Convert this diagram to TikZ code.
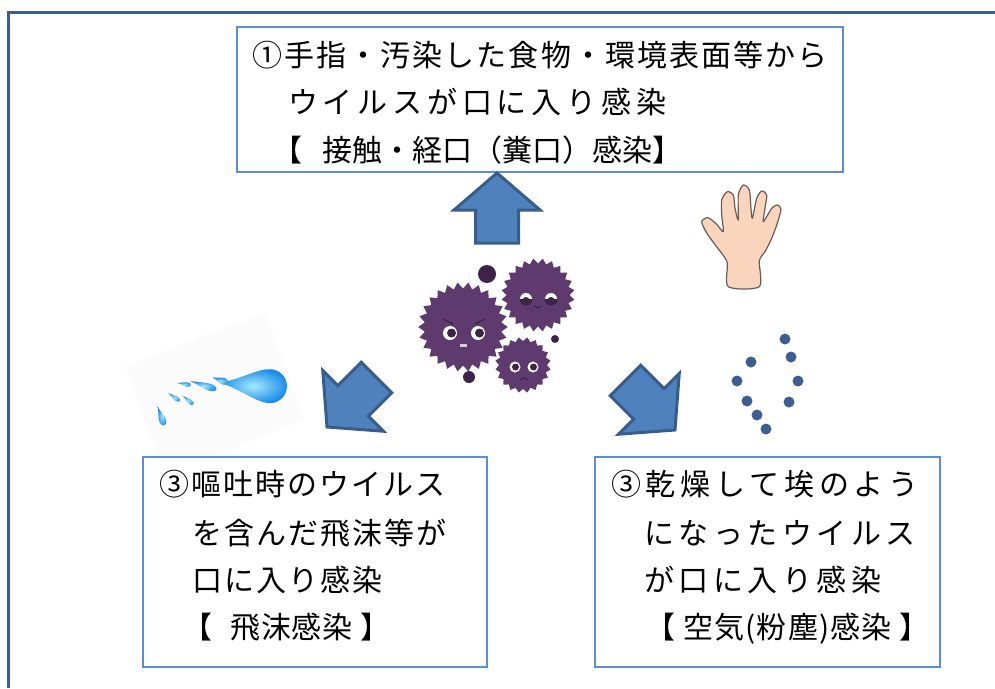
\documentclass[tikz,border=0pt]{standalone}
\usepackage{fontspec}
\newfontfamily\jp{Noto Sans CJK JP}
\usetikzlibrary{shapes.geometric}

\definecolor{framec}{HTML}{3C5F8E}
\definecolor{boxc}{HTML}{5B8FD5}
\definecolor{arrowfill}{HTML}{4F81BD}
\definecolor{arrowline}{HTML}{385D8A}
\definecolor{virus}{HTML}{5E3A6E}
\definecolor{virusdark}{HTML}{3E2348}
\definecolor{dust}{HTML}{3D5F8F}
\definecolor{skin}{HTML}{FAD5BE}
\definecolor{skinline}{HTML}{6B5B55}
\definecolor{dropin}{HTML}{A5EAFB}
\definecolor{dropout}{HTML}{1C8CEB}

\tikzset{
  infobox/.style={draw=boxc, line width=2.4pt, fill=white, inner sep=0pt},
  line/.style={anchor=base west, inner sep=0pt,
    font=\jp\fontsize{30}{30}\selectfont\addfontfeature{LetterSpace=#1}},
  line/.default=0,
  blockarrow/.style={fill=arrowfill, draw=arrowline, line width=3pt, line join=miter},
  germ/.style={star, star point ratio=0.86, fill=virus, inner sep=0pt},
  speck/.style={circle, fill=virusdark, inner sep=0pt},
  dustdot/.style={circle, fill=dust, inner sep=0pt, minimum size=11pt},
  eyewhite/.style={circle, fill=white, inner sep=0pt},
  pupil/.style={circle, fill=virusdark, inner sep=0pt},
}

% teardrop with its point at (-1,0) and round head centred on (0.5,0)
\newcommand{\dropshape}{(-1,0) .. controls (-0.4,0.12) and (0.1,0.5) .. (0.5,0.5)
  arc[start angle=90, end angle=-90, radius=0.5]
  .. controls (0.1,-0.5) and (-0.4,-0.12) .. (-1,0) -- cycle}

\begin{document}
\begin{tikzpicture}[x=1pt, y=-1pt]
\useasboundingbox (0,0) rectangle (995,688);

% outer frame (only top and left edges fall inside the page)
\draw[framec, line width=3pt] (8.5,688) -- (8.5,12.5) -- (995,12.5);

% faint backdrop of the splash picture
\fill[black!1.5] (125,367) -- (265,312) -- (305,420) -- (165,475) -- cycle;

% text boxes
\node[infobox, minimum width=606pt, minimum height=145pt] (topbox) at (540,99.5) {};
\node[infobox, minimum width=344pt, minimum height=210pt] (leftbox) at (315,562) {};
\node[infobox, minimum width=345pt, minimum height=210pt] (rightbox) at (767.5,562) {};

% top box text
\node[line=7] (t1) at (252,66) {①手指・汚染した食物・環境表面等から};
\node[line=16] (t2) at (288,113) {ウイルスが口に入り感染};
\node[line] (t3) at (272,161) {【\hspace{20pt}接触・経口（糞口）感染】};

% lower left box text
\node[line=7] (l1) at (159,495) {③嘔吐時のウイルス};
\node[line=7] (l2) at (192,544) {を含んだ飛沫等が};
\node[line=7] (l3) at (192,591) {口に入り感染};
\node[line=3] (l4) at (182,638) {【\hspace{18pt}飛沫感染 】};

% lower right box text
\node[line=16] (r1) at (611,495) {③乾燥して埃のよう};
\node[line=15] (r2) at (644,544) {になったウイルス};
\node[line=15] (r3) at (644,591) {が口に入り感染};
\node[line=4] (r4) at (645,638) {【 空気(粉塵)感染 】};

% block arrows pointing out from the germs
\foreach \tip/\ang in {{(497,173)}/0, {(327,427)}/135, {(675,430)}/-135}
  \draw[blockarrow, shift={\tip}, rotate=\ang]
    (0,0) -- (43,37) -- (21.5,37) -- (21.5,70) -- (-21.5,70) -- (-21.5,37) -- (-43,37) -- cycle;

% germs
\node[germ, star points=26, minimum size=77pt] (g1) at (463,327) {};
\node[germ, star points=24, minimum size=63pt] (g2) at (538,295) {};
\node[germ, star points=20, minimum size=48pt] (g3) at (523,365) {};
\node[speck, minimum size=18pt] (s1) at (487,274) {};
\node[speck, minimum size=12pt] (s2) at (469,377) {};
\node[speck, minimum size=8pt] (s3) at (555,339) {};

% faces: large germ
\node[eyewhite, minimum size=14pt] (g1el) at (450,333) {};
\node[eyewhite, minimum size=14pt] (g1er) at (478,333) {};
\node[pupil, minimum size=9pt] (g1pl) at (451.5,333) {};
\node[pupil, minimum size=9pt] (g1pr) at (479.5,333) {};
\draw[virusdark, line width=1.3pt, line cap=round] (443,319) -- (453,324);
\draw[virusdark, line width=1.3pt, line cap=round] (485,319) -- (475,324);
\fill[white!75!virus] (460,344) rectangle (467,346.5);

% faces: upper right germ (sleepy eyes)
\node[eyewhite, minimum size=12pt] (g2el) at (526,299) {};
\node[eyewhite, minimum size=12pt] (g2er) at (551,299) {};
\node[pupil, minimum size=7pt] (g2pl) at (526,300.5) {};
\node[pupil, minimum size=7pt] (g2pr) at (551,300.5) {};
\fill[virusdark] (519.5,299) arc[start angle=180, end angle=0, radius=6.5] -- cycle;
\fill[virusdark] (544.5,299) arc[start angle=180, end angle=0, radius=6.5] -- cycle;
\draw[virusdark, line width=1pt, line cap=round] (535,306) .. controls (537,308.5) and (539,308.5) .. (541,306);

% faces: lower germ
\node[eyewhite, minimum size=11pt] (g3el) at (515,367) {};
\node[eyewhite, minimum size=11pt] (g3er) at (533,367) {};
\node[pupil, minimum size=7pt] (g3pl) at (515.5,367) {};
\node[pupil, minimum size=7pt] (g3pr) at (533.5,367) {};
\draw[virusdark, line width=1pt, line cap=round] (520,380) .. controls (522,377.5) and (525,377.5) .. (527,380);

% hand
\draw[fill=skin, draw=skinline, line width=1.2pt, line join=round]
  plot[smooth cycle, tension=0.45] coordinates {
    (728.3,286.7) (727,262) (716,246) (706.7,233) (701.7,221.7) (708,217.7)
    (716.7,224.3) (723.3,231.7) (721.7,215) (721.7,200) (727.3,191.7)
    (733.3,195) (735,208.3) (738.3,220) (738.3,195) (743.3,185) (749.3,190)
    (750.7,205) (752.3,218.3) (756.7,198.3) (761.7,191) (766.7,195) (765,208)
    (763.3,221.7) (771.7,208.3) (777.3,205) (781,209.3) (776.7,225)
    (771.7,238.3) (765,251.7) (759.3,261) (759.3,286.7)};

% airborne dust
\foreach \p [count=\i] in {(785,339),(791,357),(751,362),(737,381),(798,381),(747,401),(789,402),(757,415),(766,429)}
  \node[dustdot] (d\i) at \p {};

% splash of droplets
\foreach \pos/\ang/\sx/\sy in {
    {(253,385)}/-4/34/34,
    {(220,380)}/-20/8/7,
    {(203,385)}/-18/14/7,
    {(184,384)}/-10/7/4.5,
    {(174,397)}/-35/7/4.5,
    {(188,400)}/-40/7/4.5,
    {(161,416)}/-70/10/7}
  \shade[inner color=dropin, outer color=dropout, shift={\pos}, rotate=\ang, xscale=\sx, yscale=\sy] \dropshape;

\end{tikzpicture}
\end{document}
